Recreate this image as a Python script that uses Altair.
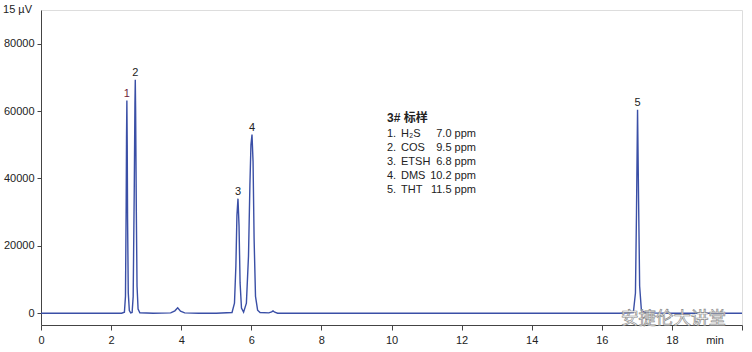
import altair as alt
import pandas as pd

# Chromatogram trace (time in min, signal in µV)
trace_time = [0.0, 1.0, 2.0, 2.30, 2.38, 2.41, 2.43, 2.44, 2.45, 2.46, 2.47, 2.49, 2.52, 2.56,
              2.60, 2.63, 2.66, 2.68, 2.69, 2.70, 2.72, 2.74, 2.77, 2.82, 3.2, 3.70, 3.82,
              3.90, 3.98, 4.10, 4.5, 5.0, 5.45, 5.52, 5.56, 5.59, 5.62, 5.65, 5.68, 5.72,
              5.78, 5.86, 5.92, 5.96, 5.99, 6.02, 6.05, 6.08, 6.12, 6.18, 6.25, 6.50, 6.58,
              6.62, 6.67, 6.75, 7.5, 8.5, 9.5, 10.5, 11.5, 12.5, 13.5, 14.5, 15.5, 16.5,
              16.90, 16.96, 16.99, 17.02, 17.05, 17.08, 17.13, 17.25, 18.0, 19.0, 20.0]
trace_signal = [0, 0, 0, 0, 300, 5000, 32000, 52000, 63100, 50000, 28000, 6000, 800, 100,
                200, 5000, 36000, 62000, 69300, 60000, 30000, 8000, 1200, 150, 0, 100, 700,
                1600, 600, 100, 0, 0, 200, 3000, 14000, 29000, 34000, 26000, 9000, 1500,
                300, 3000, 17000, 38000, 50000, 53000, 45000, 22000, 5000, 900, 200, 100, 400,
                700, 300, 0, 0, 0, 0, 0, 0, 0, 0, 0, 0, 0,
                200, 6000, 30000, 60400, 33000, 8000, 800, 100, 0, 0, 0]

# Peak labels
peak_time = [2.45, 2.69, 5.62, 6.02, 17.02]
peak_height = [63100, 69300, 34000, 53000, 60400]
peak_label = ["1", "2", "3", "4", "5"]
peak_color = ["#6e1a3a", "#222222", "#222222", "#222222", "#222222"]

# Legend box
legend_title = "3# 标样"
legend_nums = ["1.", "2.", "3.", "4.", "5."]
legend_names = ["H₂S", "COS", "ETSH", "DMS", "THT"]
legend_vals = ["7.0 ppm", "9.5 ppm", "6.8 ppm", "10.2 ppm", "11.5 ppm"]

y_ticks = [0, 10000, 20000, 30000, 40000, 50000, 60000, 70000, 80000, 90000]
x_ticks = [i * 0.5 for i in range(41)]
y_top_label = "15 µV"
x_unit_label = "min"

FONT = "Liberation Sans"
FS = 11

trace = pd.DataFrame({"t": trace_time, "s": trace_signal})
peaks = pd.DataFrame({"t": peak_time, "s": peak_height, "lab": peak_label, "c": peak_color})

xs = alt.Scale(domain=[0, 20], nice=False, zero=False)
ys = alt.Scale(domain=[-3500, 90000], nice=False, zero=False)

line = alt.Chart(trace).mark_line(color="#3a4fa6", strokeWidth=1.4).encode(
    x=alt.X("t:Q", scale=xs, axis=alt.Axis(
        values=x_ticks, title=None, grid=False, tickSize=5, labelPadding=4,
        labelExpr="(datum.value % 2 == 0 && datum.value < 20) ? format(datum.value, 'd') : ''",
        labelFontSize=FS, labelFont=FONT, labelColor="#222", domainColor="#444",
        tickColor="#444", labelFlush=False)),
    y=alt.Y("s:Q", scale=ys, axis=alt.Axis(
        values=y_ticks, title=None, grid=False, tickSize=4, labelPadding=3,
        labelExpr="(datum.value % 20000 == 0 && datum.value < 90000) ? format(datum.value, 'd') : ''",
        labelFontSize=FS, labelFont=FONT, labelColor="#222", domainColor="#444",
        tickColor="#444", labelFlush=False)),
)

plabels = alt.Chart(peaks).mark_text(fontSize=FS, font=FONT, baseline="bottom", dy=-2).encode(
    x="t:Q", y="s:Q", text="lab:N", color=alt.Color("c:N", scale=None)
)

one = alt.Data(values=[{}])
top_t = alt.Chart(one).mark_text(text=y_top_label, font=FONT, fontSize=FS, align="right",
                                 baseline="middle", color="#222").encode(
    x=alt.value(-9), y=alt.value(0))
title_t = alt.Chart(one).mark_text(text=legend_title, font="Liberation Sans, Noto Sans CJK SC",
                                   fontSize=12, fontWeight="bold",
                                   align="left", baseline="middle", color="#222").encode(
    x=alt.value(346), y=alt.value(108))
nums_t = alt.Chart(one).mark_text(text=legend_nums, font=FONT, fontSize=FS, lineHeight=14,
                                  align="left", baseline="top", color="#222").encode(
    x=alt.value(346), y=alt.value(118))
names_t = alt.Chart(one).mark_text(text=legend_names, font=FONT, fontSize=FS, lineHeight=14,
                                   align="left", baseline="top", color="#222").encode(
    x=alt.value(360), y=alt.value(118))
vals_t = alt.Chart(one).mark_text(text=legend_vals, font=FONT, fontSize=FS, lineHeight=14,
                                  align="right", baseline="top", color="#222").encode(
    x=alt.value(435), y=alt.value(118))
min_t = alt.Chart(one).mark_text(text=x_unit_label, font=FONT, fontSize=FS, align="center",
                                 baseline="top", color="#222").encode(
    x=alt.value(674), y=alt.value(325))
wm_t = alt.Chart(one).mark_text(text="安捷伦大讲堂", font="Noto Sans CJK SC", fontSize=17.5,
                                align="left", baseline="middle", fill="white",
                                stroke="#8a8a8a", strokeWidth=0.7).encode(
    x=alt.value(580), y=alt.value(309))

chart = alt.layer(line, plabels, top_t, title_t, nums_t, names_t, vals_t, min_t, wm_t).properties(
    width=701, height=315,
    autosize=alt.AutoSizeParams(type="none"),
    padding={"left": 41, "top": 10, "right": 10, "bottom": 27},
).configure_view(stroke=None).configure(background="white")

chart.save("out.html", embed_options={"renderer": "svg", "actions": False})
